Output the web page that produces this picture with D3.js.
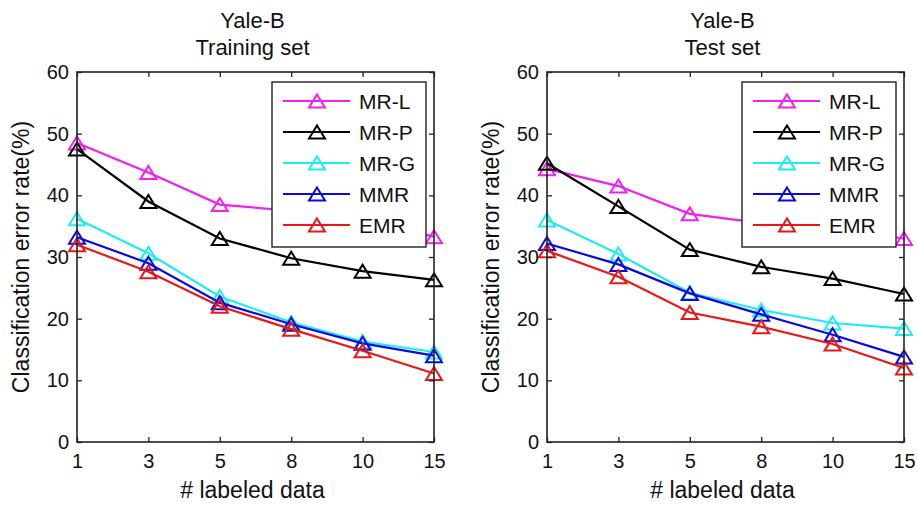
<!DOCTYPE html>
<html>
<head>
<meta charset="utf-8">
<script src="https://cdn.jsdelivr.net/npm/d3@7"></script>
<style>
  body { margin: 0; background: #fff; }
  text { font-family: "Liberation Sans", Arial, sans-serif; fill: #111; }
</style>
</head>
<body>
<div id="chart"></div>
<script>
// x categories (equally spaced)
const labeled = ["1", "3", "5", "8", "10", "15"];
const yTicks = [0, 10, 20, 30, 40, 50, 60];
const methods = ["MR-L", "MR-P", "MR-G", "MMR", "EMR"];
const colors = ["#f020f0", "#000000", "#20ecec", "#0a0ae0", "#e81818"];

// training set error rates (%)
const trainMRL = [48.5, 43.7, 38.5, 37.5, 36.0, 33.3];
const trainMRP = [47.5, 39.0, 33.0, 29.8, 27.7, 26.3];
const trainMRG = [36.2, 30.6, 23.6, 19.4, 16.3, 14.6];
const trainMMR = [33.2, 29.0, 22.6, 19.1, 16.0, 14.0];
const trainEMR = [32.0, 27.6, 22.0, 18.3, 14.8, 11.1];

// test set error rates (%)
const testMRL = [44.3, 41.5, 37.0, 35.5, 34.5, 33.0];
const testMRP = [45.2, 38.2, 31.2, 28.4, 26.5, 24.0];
const testMRG = [36.0, 30.5, 24.2, 21.4, 19.3, 18.4];
const testMMR = [32.2, 28.8, 24.1, 20.7, 17.4, 13.8];
const testEMR = [31.0, 26.8, 21.0, 18.7, 15.9, 12.0];

const W = 917, H = 505;
const svg = d3.select("#chart").append("svg")
    .attr("width", W)
    .attr("height", H);

// open triangle marker, a bit wider than tall
const triangle = {
    draw(ctx, size) {
        const w = 8, h = 6.5;
        ctx.moveTo(0, -h);
        ctx.lineTo(w, h);
        ctx.lineTo(-w, h);
        ctx.closePath();
    }
};
const marker = d3.symbol(triangle)();

function drawPanel(left, subtitle, series) {
    const x0 = left, x1 = left + 357;
    const yTop = 72, yBot = 442;

    const x = d3.scalePoint().domain(labeled).range([x0, x1]);
    const y = d3.scaleLinear().domain([0, 60]).range([yBot, yTop]);

    const g = svg.append("g");

    // lines + markers
    series.forEach((vals, i) => {
        const pts = vals.map((v, j) => [x(labeled[j]), y(v)]);
        g.append("path")
            .datum(pts)
            .attr("fill", "none")
            .attr("stroke", colors[i])
            .attr("stroke-width", 2.2)
            .attr("d", d3.line());
        g.selectAll(null)
            .data(pts)
            .enter()
            .append("path")
            .attr("d", marker)
            .attr("transform", d => `translate(${d[0]},${d[1]})`)
            .attr("fill", "none")
            .attr("stroke", colors[i])
            .attr("stroke-width", 2);
    });

    // axes: bottom/left with labels, top/right plain, ticks inward
    g.append("g")
        .attr("transform", `translate(0,${yBot})`)
        .call(d3.axisBottom(x).tickSizeInner(-5).tickSizeOuter(0).tickPadding(12))
        .call(a => a.select(".domain").remove())
        .call(a => a.selectAll("text").style("font-size", "20px").attr("fill", "#111"));
    g.append("g")
        .attr("transform", `translate(0,${yTop})`)
        .call(d3.axisTop(x).tickSizeInner(-5).tickSizeOuter(0).tickFormat(""))
        .call(a => a.select(".domain").remove());
    g.append("g")
        .attr("transform", `translate(${x0},0)`)
        .call(d3.axisLeft(y).tickValues(yTicks).tickSizeInner(-5).tickSizeOuter(0).tickPadding(8))
        .call(a => a.select(".domain").remove())
        .call(a => a.selectAll("text").style("font-size", "20px").attr("fill", "#111"));
    g.append("g")
        .attr("transform", `translate(${x1},0)`)
        .call(d3.axisRight(y).tickValues(yTicks).tickSizeInner(-5).tickSizeOuter(0).tickFormat(""))
        .call(a => a.select(".domain").remove());

    g.selectAll(".tick line").attr("stroke", "#222").attr("stroke-width", 1.3);

    g.append("rect")
        .attr("x", x0).attr("y", yTop)
        .attr("width", x1 - x0).attr("height", yBot - yTop)
        .attr("fill", "none")
        .attr("stroke", "#222")
        .attr("stroke-width", 1.6);

    // legend
    const lg = g.append("g").attr("transform", `translate(${x1 - 162},82)`);
    lg.append("rect")
        .attr("width", 154).attr("height", 165)
        .attr("fill", "#fff")
        .attr("stroke", "#222")
        .attr("stroke-width", 1.4);
    methods.forEach((m, i) => {
        const ly = 19 + i * 31;
        lg.append("line")
            .attr("x1", 11).attr("x2", 78)
            .attr("y1", ly).attr("y2", ly)
            .attr("stroke", colors[i]).attr("stroke-width", 2.2);
        lg.append("path")
            .attr("d", marker)
            .attr("transform", `translate(45,${ly})`)
            .attr("fill", "none")
            .attr("stroke", colors[i])
            .attr("stroke-width", 2);
        lg.append("text")
            .attr("x", 87).attr("y", ly)
            .attr("dy", "0.36em")
            .style("font-size", "21px")
            .text(m);
    });

    // titles
    const cx = (x0 + x1) / 2;
    g.append("text")
        .attr("x", cx - 3).attr("y", 28)
        .attr("text-anchor", "middle")
        .style("font-size", "22px")
        .text("Yale-B");
    g.append("text")
        .attr("x", cx - 3).attr("y", 55)
        .attr("text-anchor", "middle")
        .style("font-size", "22px")
        .text(subtitle);

    // axis labels
    g.append("text")
        .attr("x", cx - 3).attr("y", 498)
        .attr("text-anchor", "middle")
        .style("font-size", "23px")
        .text("# labeled data");
    g.append("text")
        .attr("transform", `translate(${x0 - 48},${(yTop + yBot) / 2}) rotate(-90)`)
        .attr("text-anchor", "middle")
        .style("font-size", "23px")
        .text("Classification error rate(%)");
}

drawPanel(77, "Training set", [trainMRL, trainMRP, trainMRG, trainMMR, trainEMR]);
drawPanel(547, "Test set", [testMRL, testMRP, testMRG, testMMR, testEMR]);
</script>
</body>
</html>
